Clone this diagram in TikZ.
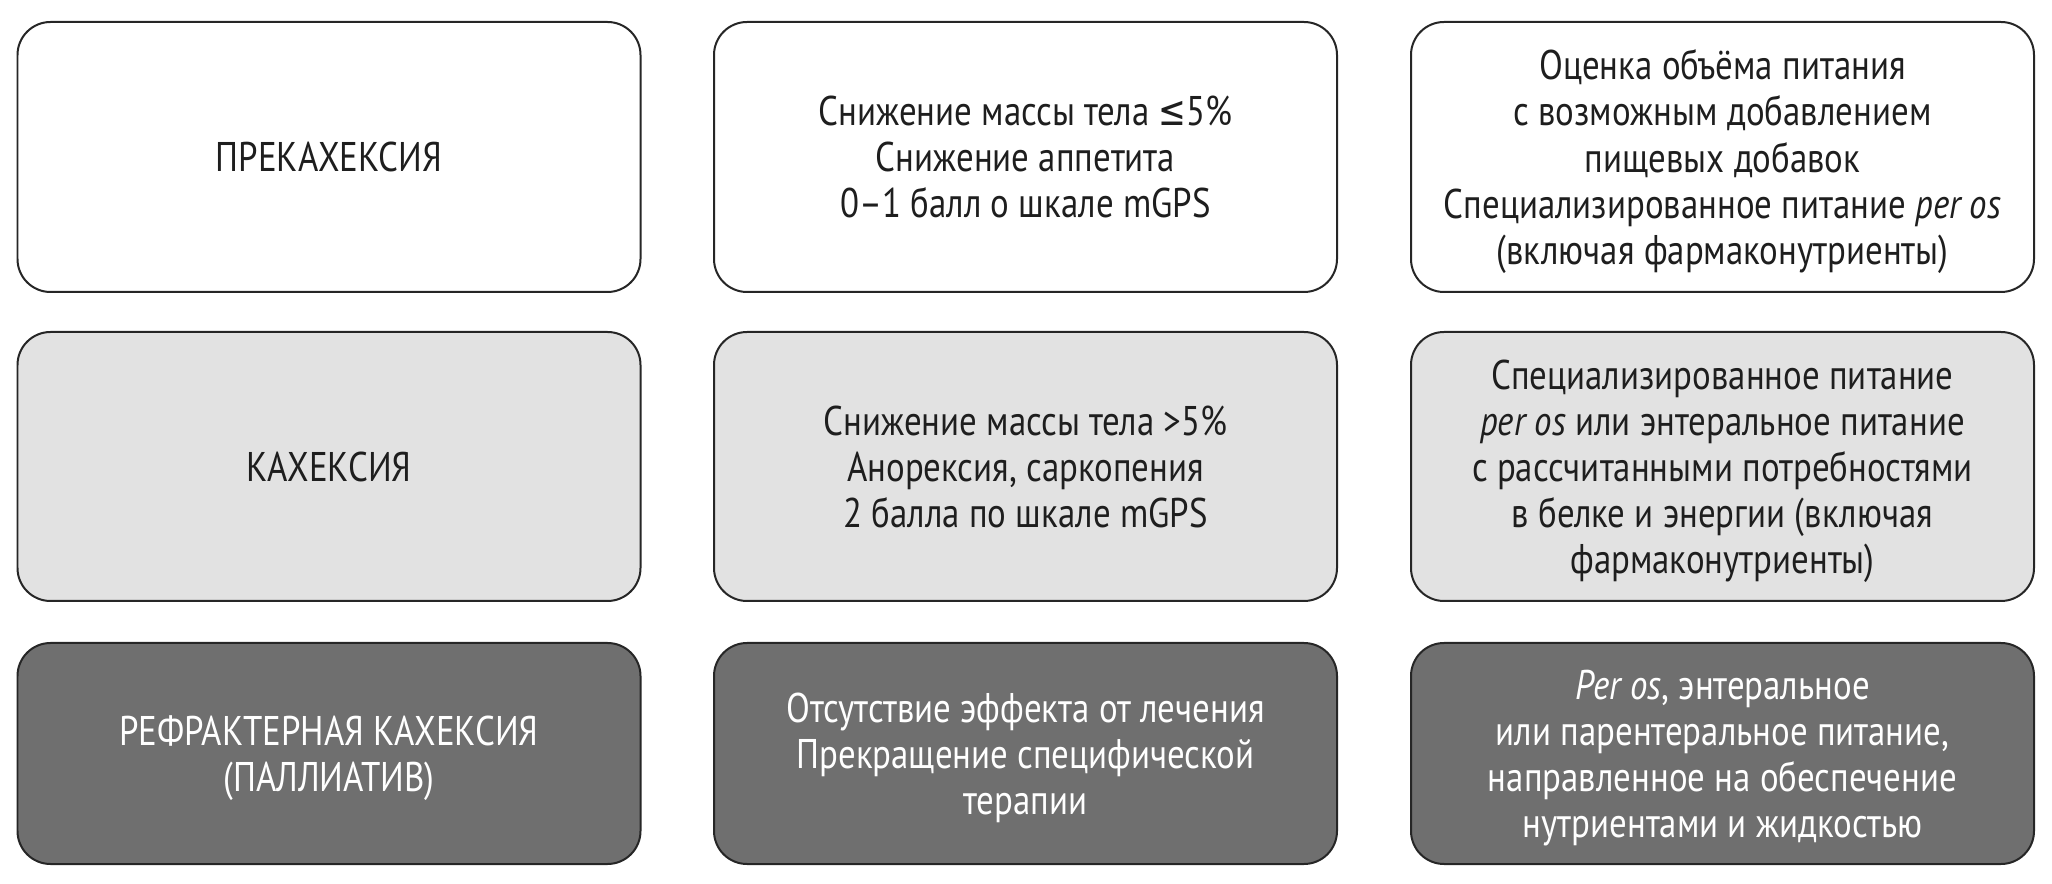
\documentclass[tikz,border=0pt]{standalone}
\usepackage{fontspec}
\setmainfont[FakeStretch=0.84]{PT Sans}
\newfontfamily\symfont[FakeStretch=0.8]{DejaVu Sans}
\definecolor{boxedge}{HTML}{262626}
\definecolor{boxlight}{HTML}{E2E2E2}
\definecolor{boxdark}{HTML}{6F6F6F}
\definecolor{textdark}{HTML}{1E1E1E}
\begin{document}
\begin{tikzpicture}[
    stage/.style={draw=boxedge, line width=0.04cm, rounded corners=0.66cm,
      minimum width=12.46cm, align=center, inner sep=0pt, text depth=0pt,
      font=\fontsize{23.6}{26.2}\selectfont},
    rowone/.style={stage, fill=white, text=textdark, minimum height=5.4cm},
    rowtwo/.style={stage, fill=boxlight, text=textdark, minimum height=5.38cm},
    rowthree/.style={stage, fill=boxdark, text=white, minimum height=4.42cm}
  ]

    \useasboundingbox (0,0) rectangle (41.04,-17.68);

    % Прекахексия
    \node[rowone] (precach) at (6.58,-3.14) {ПРЕКАХЕКСИЯ};
    \node[rowone] (presign) at (20.51,-3.14)
      {Снижение массы тела {\symfont ≤}5\%\\Снижение аппетита\\0--1 балл о шкале mGPS};
    \node[rowone] (prenutr) at (34.45,-3.14)
      {Оценка объёма питания\\с возможным добавлением\\пищевых добавок\\Специализированное питание \textit{per os}\\(включая фармаконутриенты)};

    % Кахексия
    \node[rowtwo] (cach) at (6.58,-9.33) {КАХЕКСИЯ};
    \node[rowtwo] (cachsign) at (20.51,-9.33)
      {Снижение массы тела >5\%\\Анорексия, саркопения\\2 балла по шкале mGPS};
    \node[rowtwo] (cachnutr) at (34.45,-9.33)
      {Специализированное питание\\\textit{per os} или энтеральное питание\\с рассчитанными потребностями\\в белке и энергии (включая\\фармаконутриенты)};

    % Рефрактерная кахексия
    \node[rowthree] (refr) at (6.58,-15.07) {РЕФРАКТЕРНАЯ КАХЕКСИЯ\\(ПАЛЛИАТИВ)};
    \node[rowthree] (refrsign) at (20.51,-15.07)
      {Отсутствие эффекта от лечения\\Прекращение специфической\\терапии};
    \node[rowthree] (refrnutr) at (34.45,-15.07)
      {\textit{Per os}, энтеральное\\или парентеральное питание,\\направленное на обеспечение\\нутриентами и жидкостью};

\end{tikzpicture}
\end{document}
